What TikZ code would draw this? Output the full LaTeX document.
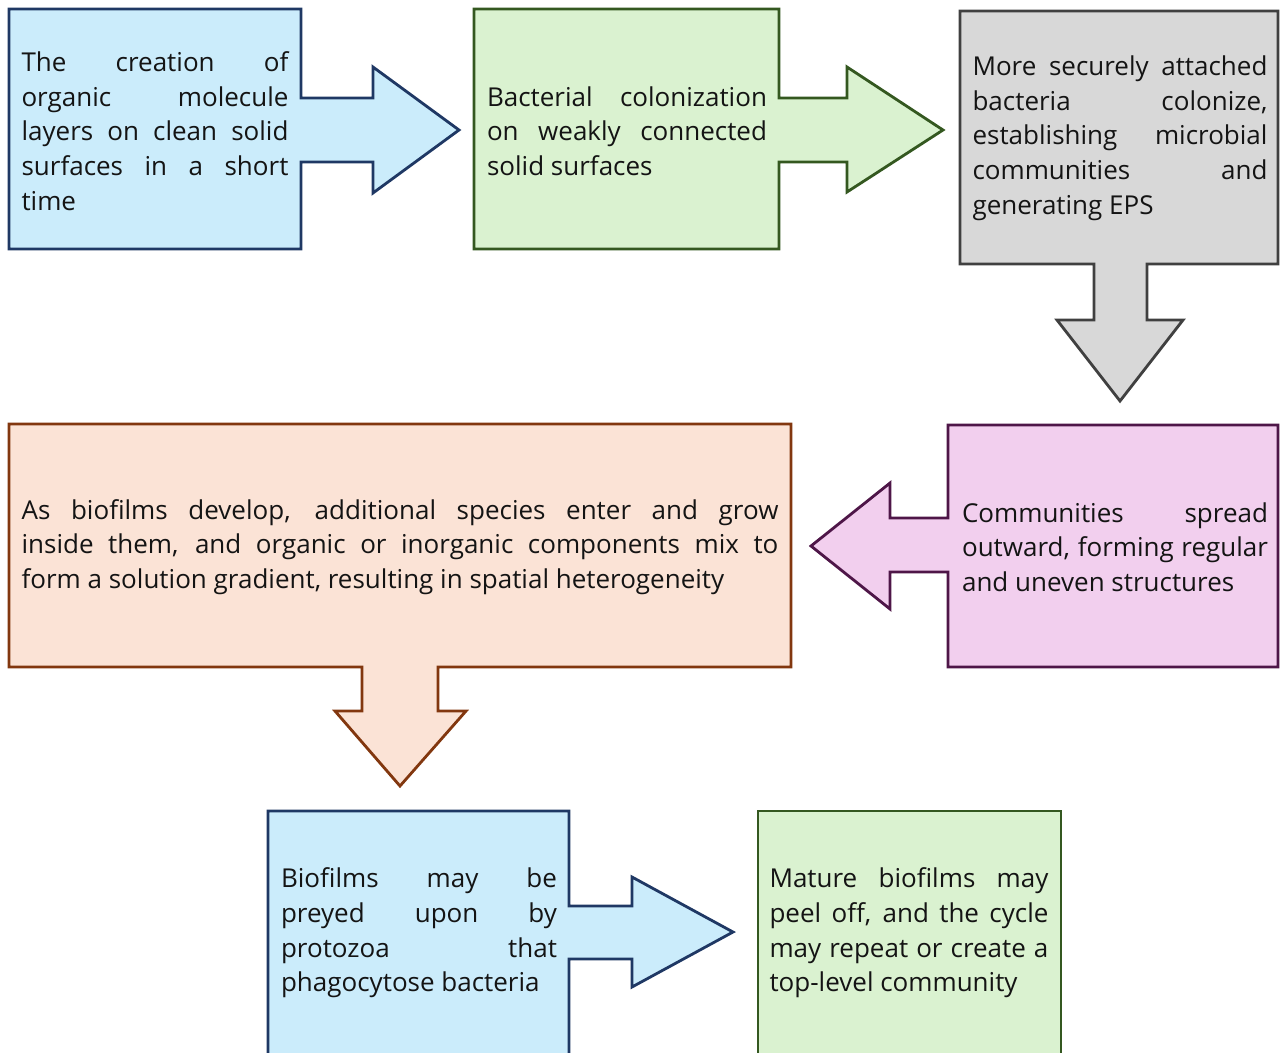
\documentclass[tikz,border=0pt]{standalone}
\usepackage{fontspec}
\setmainfont{Open Sans}
\usepackage{xcolor}
\definecolor{bluefill}{RGB}{203,236,251}
\definecolor{blueline}{RGB}{31,56,100}
\definecolor{greenfill}{RGB}{218,242,208}
\definecolor{greenline}{RGB}{52,88,32}
\definecolor{grayfill}{RGB}{216,216,216}
\definecolor{grayline}{RGB}{64,64,64}
\definecolor{pinkfill}{RGB}{242,207,238}
\definecolor{pinkline}{RGB}{78,22,72}
\definecolor{peachfill}{RGB}{251,227,214}
\definecolor{peachline}{RGB}{130,55,15}
\tolerance=10000
\hbadness=10000
\hyphenpenalty=10000

\begin{document}
\begin{tikzpicture}[x=0.02cm, y=-0.02cm,
		bluecall/.style={draw=blueline, fill=bluefill, line width=1.6pt},
		greencall/.style={draw=greenline, fill=greenfill, line width=1.6pt},
		graycall/.style={draw=grayline, fill=grayfill, line width=1.6pt},
		pinkcall/.style={draw=pinkline, fill=pinkfill, line width=1.6pt},
		peachcall/.style={draw=peachline, fill=peachfill, line width=1.6pt},
		txt/.style={align=justify, inner sep=0pt, text=black!92, font=\fontsize{14.8}{19.75}\selectfont}]
		\useasboundingbox (0,0) rectangle (1280,1052);

		% first row
		\draw[bluecall] (9,9) -- (301,9) -- (301,98) -- (373,98) -- (373,67) -- (459,130)
			-- (373,193) -- (373,162) -- (301,162) -- (301,249) -- (9,249) -- cycle;
		\draw[greencall] (474,9) -- (779,9) -- (779,98) -- (847,98) -- (847,67) -- (943,130)
			-- (847,192) -- (847,162) -- (779,162) -- (779,249) -- (474,249) -- cycle;
		\draw[graycall] (960,11) -- (1278,11) -- (1278,264) -- (1147,264) -- (1147,320) -- (1183,320)
			-- (1120,401) -- (1057,320) -- (1094,320) -- (1094,264) -- (960,264) -- cycle;

		\node[txt, text width=5.34cm] (creation) at (155,131)
			{The creation of\linebreak organic molecule\linebreak layers on clean solid\linebreak surfaces in a short\linebreak time};
		\node[txt, text width=5.6cm] (colonization) at (627,131)
			{Bacterial colonization\linebreak on weakly connected\linebreak solid surfaces};
		\node[txt, text width=5.9cm] (attached) at (1120,138)
			{More securely attached\linebreak bacteria colonize,\linebreak establishing microbial\linebreak communities and\linebreak generating EPS};

		% second row
		\draw[pinkcall] (948,425) -- (1278,425) -- (1278,667) -- (948,667) -- (948,572) -- (890,572)
			-- (890,609) -- (811,546) -- (890,483) -- (890,518) -- (948,518) -- cycle;
		\draw[peachcall] (9,424) -- (791,424) -- (791,667) -- (438,667) -- (438,711) -- (466,711)
			-- (400,786) -- (335,711) -- (362,711) -- (362,667) -- (9,667) -- cycle;

		\node[txt, text width=6.12cm] (spread) at (1115,547)
			{Communities spread\linebreak outward, forming regular\linebreak and uneven structures};
		\node[txt, text width=15.14cm] (develop) at (400,547)
			{As biofilms develop, additional species enter and grow\linebreak inside them, and organic or inorganic components mix to\linebreak form a solution gradient, resulting in spatial heterogeneity};

		% third row
		\draw[bluecall] (268,811) -- (569,811) -- (569,906) -- (632,906) -- (632,877) -- (733,932)
			-- (632,987) -- (632,959) -- (569,959) -- (569,1070) -- (268,1070) -- cycle;
		\draw[greencall] (758,811) -- (1061,811) -- (1061,1070) -- (758,1070) -- cycle;

		\node[txt, text width=5.52cm] (preyed) at (419,933)
			{Biofilms may be\linebreak preyed upon by\linebreak protozoa that\linebreak phagocytose bacteria};
		\node[txt, text width=5.58cm] (mature) at (909,933)
			{Mature biofilms may\linebreak peel off, and the cycle\linebreak may repeat or create a\linebreak top-level community};
	\end{tikzpicture}
\end{document}
